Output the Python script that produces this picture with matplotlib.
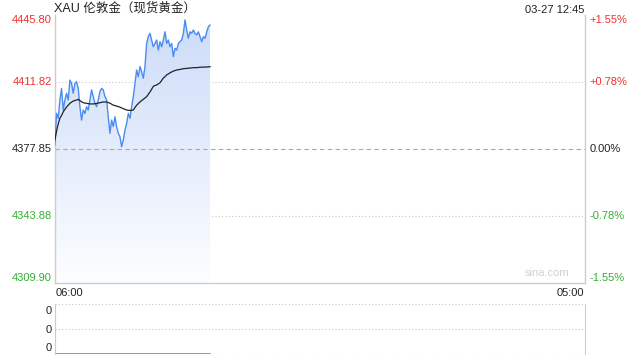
import numpy as np
import matplotlib
matplotlib.use("Agg")
import matplotlib.pyplot as plt
from matplotlib.transforms import blended_transform_factory, offset_copy
from matplotlib.patches import Polygon

# ---------------- data ----------------
title = "XAU 伦敦金（现货黄金）"
stamp = "03-27 12:45"
x_start_label = "06:00"
x_end_label = "05:00"
prev_close = 4377.85
y_ticks = [4445.80, 4411.82, 4377.85, 4343.88, 4309.90]
pct_labels = ["+1.55%", "+0.78%", "0.00%", "-0.78%", "-1.55%"]
session_minutes = 1380          # 06:00 -> 05:00 next day
last_minute = 405               # 12:45

price = [4379.9, 4395.9, 4393.4, 4402.7, 4408.6, 4397.6, 4402.7, 4406.1, 4402.7, 4412.8,
         4411.1, 4406.1, 4411.1, 4412.0, 4408.6, 4399.3, 4392.5, 4397.6, 4395.9, 4399.3,
         4397.6, 4402.7, 4407.8, 4404.4, 4401.0, 4399.3, 4402.7, 4406.9, 4408.6, 4407.8,
         4404.4, 4402.7, 4394.2, 4385.8, 4392.5, 4389.2, 4394.2, 4389.2, 4385.8, 4384.1,
         4379.0, 4382.4, 4387.5, 4390.8, 4395.9, 4393.4, 4399.3, 4404.4, 4411.1, 4417.9,
         4414.5, 4419.6, 4417.1, 4413.7, 4419.6, 4431.4, 4434.8, 4436.5, 4433.1, 4429.7,
         4431.4, 4433.1, 4428.0, 4432.3, 4429.7, 4433.1, 4437.3, 4431.4, 4433.1, 4429.7,
         4431.4, 4424.7, 4428.9, 4428.0, 4431.4, 4432.3, 4433.1, 4436.5, 4443.3, 4438.2,
         4434.0, 4437.3, 4436.5, 4438.2, 4436.5, 4435.7, 4437.3, 4434.8, 4432.3, 4434.8,
         4434.0, 4437.3, 4439.9, 4440.7]

avg_minutes = [1, 6, 10, 14, 19, 23, 32, 40, 49, 58, 62, 67, 75, 84, 92, 101, 110, 118, 127,
               136, 145, 153, 162, 171, 179, 188, 197, 205, 210, 214, 223, 231, 240, 249,
               258, 266, 275, 283, 292, 301, 310, 318, 327, 336, 344, 353, 362, 370, 379,
               388, 396, 405]
avg_price = [4382.4, 4387.5, 4390.8, 4393.4, 4395.1, 4396.8, 4399.3, 4401.0, 4402.2, 4402.7,
             4403.0, 4402.3, 4401.3, 4401.0, 4400.7, 4400.7, 4401.0, 4401.3, 4401.7, 4401.7,
             4401.0, 4400.1, 4399.6, 4399.0, 4398.3, 4397.6, 4397.4, 4397.6, 4399.0, 4400.1,
             4401.8, 4403.0, 4404.4, 4406.9, 4409.8, 4410.3, 4411.5, 4413.7, 4415.4, 4416.5,
             4417.4, 4417.9, 4418.2, 4418.6, 4418.7, 4418.9, 4419.1, 4419.1, 4419.3, 4419.4,
             4419.4, 4419.6]
volume_labels = ["0", "0", "0"]

# ---------------- style ----------------
RED = "#f03030"
GREEN = "#33b033"
BLACK = "#222222"
BORDER = "#cccccc"
LINE = "#4a8cf0"
FONT = ["Liberation Sans", "Noto Sans CJK SC", "DejaVu Sans"]
plt.rcParams["font.family"] = FONT

W, H = 640, 360
fig = plt.figure(figsize=(6.4, 3.6), dpi=100)
fig.patch.set_facecolor("white")

def px_axes(x0, y0, x1, y1):
    return fig.add_axes([x0 / W, 1 - y1 / H, (x1 - x0) / W, (y1 - y0) / H])

ax = px_axes(54.5, 15, 584.5, 283)
axv = px_axes(54.5, 304, 584.5, 354)

t = np.linspace(1, last_minute, len(price))
p = np.array(price)

ax.set_xlim(0, session_minutes)
ax.set_ylim(y_ticks[-1], y_ticks[0])

# gradient fill under price line
grad = np.linspace(0, 1, 256).reshape(-1, 1)
top_c = np.array([0.80, 0.86, 0.975])
bot_c = np.array([0.99, 0.995, 1.0])
img = top_c * (1 - grad[..., None]) + bot_c * grad[..., None]
img = img.reshape(256, 1, 3)
im = ax.imshow(img, extent=[0, session_minutes, y_ticks[-1], y_ticks[0]],
               aspect="auto", origin="upper", zorder=1, interpolation="bilinear")
verts = np.column_stack([np.r_[t[0], t, t[-1]], np.r_[y_ticks[-1], p, y_ticks[-1]]])
poly = Polygon(verts, closed=True, facecolor="none", edgecolor="none")
ax.add_patch(poly)
im.set_clip_path(poly)

# grid lines
for v in (y_ticks[1], y_ticks[3]):
    ax.axhline(v, color="#c8c8c8", lw=0.8, ls=(0, (1, 2)), zorder=0.5)
ax.axhline(prev_close, color="#aaaaaa", lw=0.8, ls=(0, (4, 3)), zorder=2)

ax.plot(t, p, color=LINE, lw=1.0, zorder=3)
ax.plot(avg_minutes, avg_price, color=BLACK, lw=0.9, zorder=4)

for s in ("left", "right", "bottom"):
    ax.spines[s].set_color(BORDER)
    ax.spines[s].set_linewidth(1)
ax.spines["top"].set_visible(False)
ax.set_xticks([])
ax.set_yticks([])

# y labels
ytr = blended_transform_factory(ax.transAxes, ax.transData)
left_tr = offset_copy(ytr, fig=fig, x=-2.5, y=0, units="dots")
right_tr = offset_copy(ytr, fig=fig, x=5, y=0, units="dots")
colors = [RED, RED, BLACK, GREEN, GREEN]
vas = ["top", "center", "center", "center", "bottom"]
for v, c, va, pl in zip(y_ticks, colors, vas, pct_labels):
    ax.text(0, v, f"{v:.2f}", transform=left_tr, ha="right", va=va, color=c, fontsize=8)
    ax.text(1, v, pl, transform=right_tr, ha="left", va=va, color=c, fontsize=8)

ax.text(0.0, 1.0, title, transform=offset_copy(ax.transAxes, fig=fig, x=0, y=0, units="dots"),
        ha="left", va="bottom", fontsize=9, color=BLACK, family=FONT)
ax.text(1.0, 1.0, stamp, transform=offset_copy(ax.transAxes, fig=fig, x=0, y=0, units="dots"),
        ha="right", va="bottom", fontsize=8, color=BLACK)
ax.text(0.0, 0.0, x_start_label, transform=offset_copy(ax.transAxes, fig=fig, x=1, y=-5, units="dots"),
        ha="left", va="top", fontsize=8, color=BLACK)
ax.text(1.0, 0.0, x_end_label, transform=offset_copy(ax.transAxes, fig=fig, x=0, y=-5, units="dots"),
        ha="right", va="top", fontsize=8, color=BLACK)
ax.text(0.93, 0.02, "sina.com", transform=ax.transAxes, ha="center", va="bottom",
        fontsize=8, color="#d0d0d0")

# volume panel
axv.set_xlim(0, session_minutes)
axv.set_ylim(0, 1)
axv.axhline(1, color="#c8c8c8", lw=0.8, ls=(0, (1, 2)))
axv.axhline(0.5, color="#c8c8c8", lw=0.8, ls=(0, (1, 2)))
axv.axhline(0, color="#c8c8c8", lw=0.8, ls=(0, (1, 2)))
axv.plot([0, last_minute], [0, 0], color="#888888", lw=1.2)
for s in ("top", "bottom"):
    axv.spines[s].set_visible(False)
for s in ("left", "right"):
    axv.spines[s].set_color(BORDER)
axv.set_xticks([])
axv.set_yticks([])
vtr = offset_copy(axv.transAxes, fig=fig, x=-3, y=0, units="dots")
for yy, lab in zip([0.86, 0.48, 0.12], volume_labels):
    axv.text(0, yy, lab, transform=vtr, ha="right", va="center", fontsize=8, color=BLACK)

fig.savefig("out.png", dpi=100)
